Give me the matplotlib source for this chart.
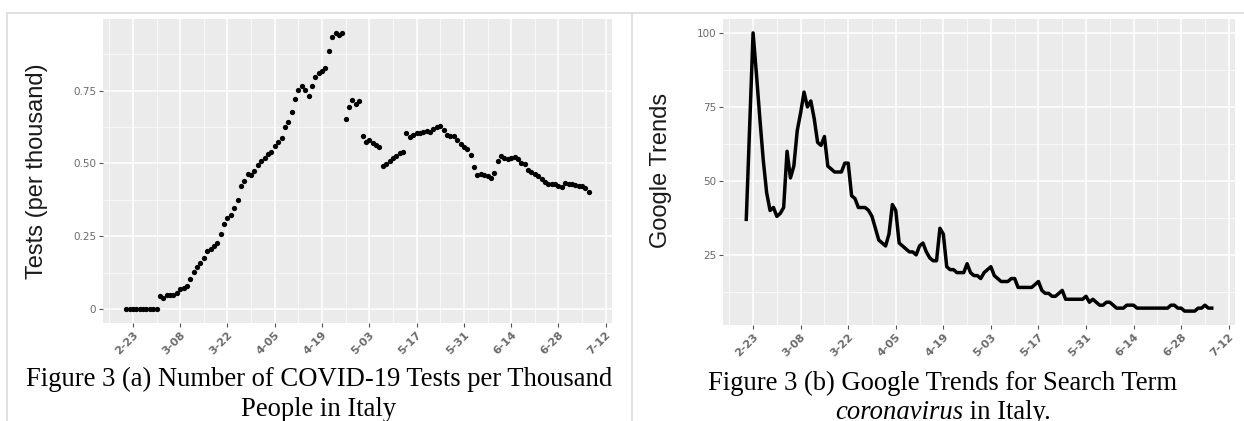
import matplotlib
matplotlib.use("Agg")
import matplotlib.pyplot as plt
from matplotlib.lines import Line2D
import pandas as pd

# daily values, 2020-02-21 .. 2020-07-07
start_date = "2020-02-21"

tests_per_thousand = [
    0, 0, 0, 0, 0, 0, 0, 0, 0, 0,
    0.046, 0.040, 0.048, 0.048, 0.049, 0.055, 0.068, 0.073, 0.080, 0.103,
    0.126, 0.143, 0.160, 0.176, 0.200, 0.208, 0.217, 0.228, 0.257, 0.292,
    0.313, 0.322, 0.348, 0.375, 0.421, 0.440, 0.462, 0.460, 0.475, 0.495,
    0.510, 0.517, 0.533, 0.538, 0.559, 0.575, 0.587, 0.626, 0.641, 0.676,
    0.722, 0.752, 0.766, 0.751, 0.731, 0.767, 0.795, 0.809, 0.817, 0.828,
    0.887, 0.934, 0.948, 0.941, 0.948, 0.651, 0.694, 0.717, 0.703, 0.713,
    0.594, 0.573, 0.582, 0.571, 0.562, 0.557, 0.492, 0.498, 0.507, 0.518,
    0.525, 0.537, 0.540, 0.605, 0.590, 0.599, 0.605, 0.606, 0.609, 0.611,
    0.609, 0.619, 0.625, 0.627, 0.615, 0.599, 0.594, 0.594, 0.582, 0.567,
    0.556, 0.550, 0.528, 0.489, 0.459, 0.465, 0.459, 0.456, 0.450, 0.468,
    0.510, 0.525, 0.517, 0.515, 0.519, 0.522, 0.514, 0.502, 0.499, 0.478,
    0.470, 0.462, 0.457, 0.445, 0.437, 0.431, 0.430, 0.429, 0.422, 0.420,
    0.434, 0.431, 0.429, 0.426, 0.423, 0.422, 0.417, 0.402,
]

google_trends = [
    37, 69, 100, 86, 71, 57, 46, 40, 41, 38,
    39, 41, 60, 51, 55, 67, 73, 80, 75, 77,
    71, 63, 62, 65, 55, 54, 53, 53, 53, 56,
    56, 45, 44, 41, 41, 41, 40, 38, 34, 30,
    29, 28, 32, 42, 40, 29, 28, 27, 26, 26,
    25, 28, 29, 26, 24, 23, 23, 34, 32, 21,
    20, 20, 19, 19, 19, 22, 19, 18, 18, 17,
    19, 20, 21, 18, 17, 16, 16, 16, 17, 17,
    14, 14, 14, 14, 14, 15, 16, 13, 12, 12,
    11, 11, 12, 13, 10, 10, 10, 10, 10, 10,
    11, 9, 10, 9, 8, 8, 9, 9, 8, 7,
    7, 7, 8, 8, 8, 7, 7, 7, 7, 7,
    7, 7, 7, 7, 7, 8, 8, 7, 7, 6,
    6, 6, 6, 7, 7, 8, 7, 7,
]

x_ticks = ["2020-02-23", "2020-03-08", "2020-03-22", "2020-04-05", "2020-04-19", "2020-05-03",
           "2020-05-17", "2020-05-31", "2020-06-14", "2020-06-28", "2020-07-12"]
x_ticks_label = ["2-23", "3-08", "3-22", "4-05", "4-19", "5-03", "5-17", "5-31", "6-14", "6-28", "7-12"]

tests_yticks = [0, 0.25, 0.50, 0.75]
tests_yticks_label = ["0", "0.25", "0.50", "0.75"]
trends_yticks = [25, 50, 75, 100]
trends_yticks_label = ["25", "50", "75", "100"]

W, H = 1244, 421


def style_axis(ax, yticks, yticks_label):
    dates = pd.to_datetime(x_ticks)
    ax.set_facecolor("#EBEBEB")
    for s in ax.spines.values():
        s.set_visible(False)
    ax.set_xticks(dates)
    ax.set_xticklabels(x_ticks_label, rotation=45, ha="right", va="top",
                       rotation_mode="anchor", fontsize=8, fontweight="bold", color="#6a6a6a")
    minor = dates[:-1] + pd.Timedelta(days=7)
    minor = minor.append(pd.DatetimeIndex([dates[0] - pd.Timedelta(days=7)]))
    ax.set_xticks(minor, minor=True)
    ax.set_yticks(yticks)
    ax.set_yticklabels(yticks_label, fontsize=7.5, color="#6a6a6a")
    step = yticks[1] - yticks[0]
    ax.set_yticks([v - step / 2 for v in yticks] + [yticks[-1] + step / 2], minor=True)
    ax.tick_params(which="major", length=3, width=0.8, color="#555555", pad=2)
    ax.tick_params(which="minor", length=0)
    ax.grid(which="major", color="white", linewidth=1.1)
    ax.grid(which="minor", color="white", linewidth=0.5)
    ax.set_axisbelow(True)
    ax.margins(x=0.05, y=0.05)


def do_plot():
    fig = plt.figure(figsize=(W / 100, H / 100), dpi=100)
    days = pd.date_range(start_date, periods=len(tests_per_thousand), freq="D")

    ax1 = fig.add_axes([103 / W, 1 - 323 / H, 509 / W, 304 / H])
    ax1.plot(days, tests_per_thousand, "o", color="black", markersize=3.8, markeredgewidth=0)
    style_axis(ax1, tests_yticks, tests_yticks_label)

    ax2 = fig.add_axes([723 / W, 1 - 325 / H, 512 / W, 306 / H])
    ax2.plot(days, google_trends, "-", color="black", linewidth=2.5)
    style_axis(ax2, trends_yticks, trends_yticks_label)

    fig.text(37 / W, 1 - 171 / H, "Tests (per thousand)", rotation=90, ha="center", va="center",
             fontsize=17, family="Liberation Sans", color="#1a1a1a")
    fig.text(661 / W, 1 - 170 / H, "Google Trends", rotation=90, ha="center", va="center",
             fontsize=17, family="Liberation Sans", color="#1a1a1a")

    cap = dict(family="Liberation Serif", fontsize=19.2, color="black", va="baseline")
    fig.text(319 / W, 1 - 386 / H, "Figure 3 (a) Number of COVID-19 Tests per Thousand", ha="center", **cap)
    fig.text(319 / W, 1 - 416 / H, "People in Italy", ha="center", **cap)
    fig.text(943 / W, 1 - 390 / H, "Figure 3 (b) Google Trends for Search Term", ha="center", **cap)
    fig.text(963 / W, 1 - 419 / H, "coronavirus", ha="right", style="italic", **cap)
    fig.text(963 / W, 1 - 419 / H, " in Italy.", ha="left", **cap)

    # light table borders around the two cells
    border = dict(color="#dcdcdc", linewidth=1.2, transform=fig.transFigure)
    fig.add_artist(Line2D([7 / W, 1], [1 - 12.5 / H, 1 - 12.5 / H], **border))
    fig.add_artist(Line2D([7 / W, 7 / W], [0, 1 - 12.5 / H], **border))
    fig.add_artist(Line2D([632 / W, 632 / W], [0, 1 - 12.5 / H], **border))

    fig.savefig("out.png", dpi=100)


if __name__ == "__main__":
    do_plot()
